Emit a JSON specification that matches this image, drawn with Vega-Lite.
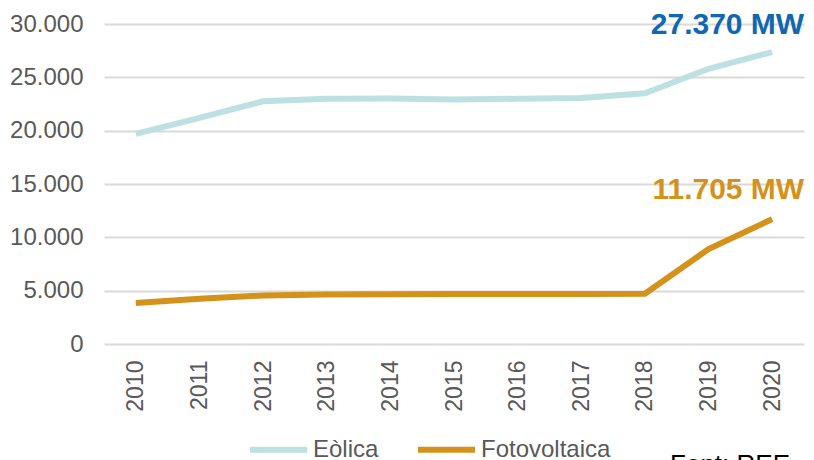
{
  "$schema": "https://vega.github.io/schema/vega-lite/v6.json",
  "autosize": {"type": "none"},
  "width": 700,
  "height": 320,
  "padding": {"top": 24, "left": 104, "right": 10, "bottom": 116},
  "background": "white",
  "config": {
    "font": "Liberation Sans",
    "view": {"stroke": null}
  },
  "title": {
    "text": "Font: REE",
    "orient": "bottom",
    "anchor": "end",
    "frame": "group",
    "fontSize": 26,
    "fontWeight": "normal",
    "color": "#000000",
    "font": "Liberation Sans",
    "dx": -14,
    "offset": -10
  },
  "data": {
    "values": [
      {"year": "2010", "serie": "Eòlica", "value": 19700},
      {"year": "2011", "serie": "Eòlica", "value": 21200},
      {"year": "2012", "serie": "Eòlica", "value": 22750},
      {"year": "2013", "serie": "Eòlica", "value": 23000},
      {"year": "2014", "serie": "Eòlica", "value": 23020},
      {"year": "2015", "serie": "Eòlica", "value": 22920},
      {"year": "2016", "serie": "Eòlica", "value": 22990},
      {"year": "2017", "serie": "Eòlica", "value": 23070},
      {"year": "2018", "serie": "Eòlica", "value": 23500},
      {"year": "2019", "serie": "Eòlica", "value": 25800},
      {"year": "2020", "serie": "Eòlica", "value": 27370},
      {"year": "2010", "serie": "Fotovoltaica", "value": 3850},
      {"year": "2011", "serie": "Fotovoltaica", "value": 4250},
      {"year": "2012", "serie": "Fotovoltaica", "value": 4550},
      {"year": "2013", "serie": "Fotovoltaica", "value": 4650},
      {"year": "2014", "serie": "Fotovoltaica", "value": 4660},
      {"year": "2015", "serie": "Fotovoltaica", "value": 4680},
      {"year": "2016", "serie": "Fotovoltaica", "value": 4690},
      {"year": "2017", "serie": "Fotovoltaica", "value": 4690},
      {"year": "2018", "serie": "Fotovoltaica", "value": 4710},
      {"year": "2019", "serie": "Fotovoltaica", "value": 8900},
      {"year": "2020", "serie": "Fotovoltaica", "value": 11705}
    ]
  },
  "encoding": {
    "x": {
      "field": "year",
      "type": "ordinal",
      "scale": {"type": "point", "padding": 0.5},
      "axis": {
        "title": null,
        "labelAngle": -90,
        "labelFontSize": 23,
        "labelColor": "#595959",
        "labelPadding": 16,
        "domain": false,
        "ticks": false,
        "grid": false
      }
    },
    "y": {
      "field": "value",
      "type": "quantitative",
      "scale": {"domain": [0, 30000], "nice": false},
      "axis": {
        "title": null,
        "values": [0, 5000, 10000, 15000, 20000, 25000, 30000],
        "labelExpr": "replace(format(datum.value, ','), ',', '.')",
        "labelFontSize": 24,
        "labelColor": "#595959",
        "labelPadding": 21,
        "domain": false,
        "ticks": false,
        "gridColor": "#d9d9d9",
        "gridWidth": 2
      }
    }
  },
  "layer": [
    {
      "mark": {"type": "line", "strokeWidth": 6},
      "encoding": {
        "color": {
          "field": "serie",
          "type": "nominal",
          "scale": {"domain": ["Eòlica", "Fotovoltaica"], "range": ["#bde1e3", "#d4921a"]},
          "legend": {
            "title": null,
            "orient": "none",
            "direction": "horizontal",
            "legendX": 143,
            "legendY": 394,
            "symbolType": "stroke",
            "symbolSize": 3249,
            "symbolStrokeWidth": 6,
            "labelFontSize": 24,
            "labelColor": "#595959",
            "labelOffset": 3,
            "columnPadding": 27
          }
        }
      }
    },
    {
      "transform": [{"filter": "datum.year == '2020' && datum.serie == 'Eòlica'"}],
      "mark": {"type": "text", "align": "right", "baseline": "alphabetic", "dx": 32, "dy": -18, "fontSize": 30, "fontWeight": "bold", "color": "#1167b1"},
      "encoding": {"text": {"value": "27.370 MW"}}
    },
    {
      "transform": [{"filter": "datum.year == '2020' && datum.serie == 'Fotovoltaica'"}],
      "mark": {"type": "text", "align": "right", "baseline": "alphabetic", "dx": 32, "dy": -20, "fontSize": 30, "fontWeight": "bold", "color": "#d4921a"},
      "encoding": {"text": {"value": "11.705 MW"}}
    }
  ]
}
